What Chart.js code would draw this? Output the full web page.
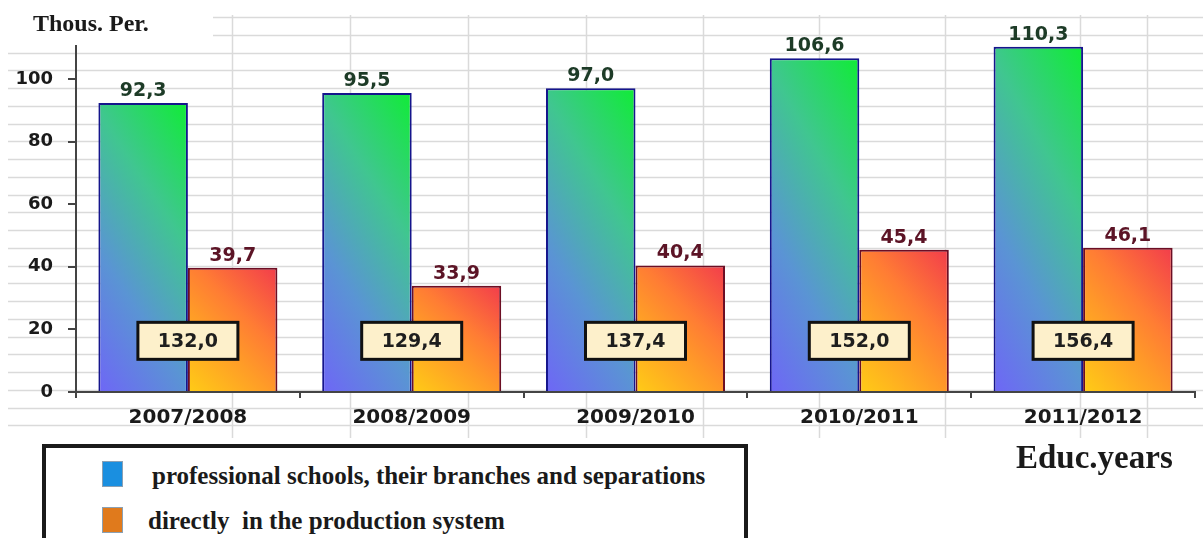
<!DOCTYPE html>
<html lang="en">
<head>
  <meta charset="UTF-8" />
  <title>Students by educational year</title>
  <script src="https://cdn.jsdelivr.net/npm/chart.js"></script>
  <style>
    body {
      margin: 0;
      background: #ffffff;
    }
    .wrap {
      position: relative;
      width: 1203px;
      height: 538px;
      overflow: hidden;
    }
    canvas {
      position: absolute;
      left: 0;
      top: 0;
    }
    .serif {
      position: absolute;
      font-family: 'Liberation Serif', serif;
      font-weight: bold;
      color: #1a1a1a;
      line-height: 1;
      white-space: pre;
    }
    .legend {
      position: absolute;
      left: 42px;
      top: 444px;
      width: 698px;
      height: 130px;
      border: 4px solid #1a1a1a;
      background: #fff;
    }
    .legend .swatch {
      position: absolute;
      width: 21px;
      height: 26px;
      border: 1px solid #8aa0b4;
      box-sizing: border-box;
    }
  </style>
</head>
<body>
<div class="wrap">
  <canvas id="chart" width="1203" height="538"></canvas>
  <div class="serif" style="left:33px; top:11px; font-size:24px;">Thous. Per.</div>
  <div class="serif" style="left:1016px; top:441px; font-size:33px;">Educ.years</div>
  <div class="legend" id="legend"></div>
</div>

<script>
// data
const years = ['2007/2008', '2008/2009', '2009/2010', '2010/2011', '2011/2012'];
const schoolValues = [92.3, 95.5, 97.0, 106.6, 110.3];
const productionValues = [39.7, 33.9, 40.4, 45.4, 46.1];
const seriesNames = ['professional schools, their branches and separations', 'directly  in the production system'];
const yTickValues = [0, 20, 40, 60, 80, 100];

const swatchColors = ['#1a8fe0', '#e07a1c'];
const labelColors = ['#1d3b27', '#5c1426'];
const TOTAL_LEVEL = 16.5; // where the total boxes sit on the value axis

function fmt(v) {
  return v.toFixed(1).replace('.', ',');
}

// gradient running from lower left to upper right of each bar
function barFill(context, dsIndex, stops, fx) {
  const chart = context.chart;
  const xs = chart.scales.x, ys = chart.scales.y;
  if (!chart.chartArea || !xs || !ys || context.type !== 'data') return stops[stops.length - 1][1];
  const cw = xs.getPixelForValue(1) - xs.getPixelForValue(0);
  const bw = cw * 0.8 / 2;
  const cx = xs.getPixelForValue(context.dataIndex);
  const left = dsIndex === 0 ? cx - bw : cx;
  const bottom = ys.getPixelForValue(0);
  const h = Math.max(1, bottom - ys.getPixelForValue(context.raw));
  const fy = 1 - fx;
  const L = 1 / (fx * fx / (bw * bw) + fy * fy / (h * h));
  const g = chart.ctx.createLinearGradient(left, bottom, left + fx * L / bw, bottom - fy * L / h);
  stops.forEach(s => g.addColorStop(s[0], s[1]));
  return g;
}

const blueStops = [[0, '#6e66f6'], [0.33, '#5a94d4'], [0.66, '#40c690'], [1, '#10ec36']];
const orangeStops = [[0, '#ffcc16'], [0.4, '#ff9a28'], [0.62, '#ff7c34'], [1, '#f23c4c']];

const sheetGrid = {
  id: 'sheetGrid',
  beforeDraw(chart) {
    const ctx = chart.ctx;
    ctx.save();
    ctx.fillStyle = '#ffffff';
    ctx.fillRect(0, 0, chart.width, chart.height);
    ctx.strokeStyle = '#dadada';
    ctx.lineWidth = 1.5;
    ctx.beginPath();
    for (let y = 17; y <= 433; y += 17.75) {
      const x0 = y < 45 ? 213 : 8;
      ctx.moveTo(x0, Math.round(y) + 0.5);
      ctx.lineTo(chart.width, Math.round(y) + 0.5);
    }
    [232, 350, 468, 586, 703, 819, 945, 1080, 1147].forEach(x => {
      ctx.moveTo(x + 0.5, 15);
      ctx.lineTo(x + 0.5, 438);
    });
    ctx.stroke();
    ctx.restore();
  }
};

const valueLabels = {
  id: 'valueLabels',
  afterDatasetsDraw(chart) {
    const ctx = chart.ctx;
    ctx.save();
    ctx.font = 'bold 19px "DejaVu Sans"';
    ctx.textAlign = 'center';
    ctx.textBaseline = 'alphabetic';
    chart.data.datasets.forEach((ds, di) => {
      chart.getDatasetMeta(di).data.forEach((bar, i) => {
        ctx.fillStyle = labelColors[di];
        ctx.fillText(fmt(ds.data[i]), bar.x, bar.y - 7);
      });
    });

    // boxed totals
    const xs = chart.scales.x, ys = chart.scales.y;
    const cy = ys.getPixelForValue(TOTAL_LEVEL);
    years.forEach((y, i) => {
      const cx = xs.getPixelForValue(i);
      const total = schoolValues[i] + productionValues[i];
      ctx.fillStyle = '#fdf0cb';
      ctx.fillRect(cx - 50, cy - 18, 100, 37);
      ctx.lineWidth = 3;
      ctx.strokeStyle = '#111111';
      ctx.strokeRect(cx - 50, cy - 18, 100, 37);
      ctx.fillStyle = '#1e1e1e';
      ctx.fillText(fmt(total), cx, cy + 7);
    });
    ctx.restore();
  }
};

const chart = new Chart(document.getElementById('chart'), {
  type: 'bar',
  data: {
    labels: years,
    datasets: [
      {
        label: seriesNames[0],
        data: schoolValues,
        backgroundColor: c => barFill(c, 0, blueStops, 0.32),
        borderColor: '#15158c',
        borderWidth: 2,
        categoryPercentage: 0.8,
        barPercentage: 1.0
      },
      {
        label: seriesNames[1],
        data: productionValues,
        backgroundColor: c => barFill(c, 1, orangeStops, 0.42),
        borderColor: '#6c0e24',
        borderWidth: 2,
        categoryPercentage: 0.8,
        barPercentage: 1.0
      }
    ]
  },
  options: {
    responsive: false,
    animation: false,
    layout: { padding: { left: 0, right: 8, top: 46, bottom: 106 } },
    plugins: {
      legend: { display: false },
      tooltip: { enabled: false }
    },
    scales: {
      x: {
        grid: { offset: true, drawOnChartArea: false, tickLength: 6, color: '#444', lineWidth: 2 },
        border: { color: '#444', width: 2 },
        ticks: {
          color: '#1a1a1a',
          padding: 8,
          font: { family: 'DejaVu Sans', size: 20, weight: 'bold' }
        },
        afterFit: s => { s.height = 40; }
      },
      y: {
        min: 0,
        max: 110.5,
        grid: { drawOnChartArea: false, tickLength: 8, color: '#444', lineWidth: 2 },
        border: { color: '#444', width: 2 },
        ticks: {
          color: '#1a1a1a',
          padding: 15,
          font: { family: 'DejaVu Sans', size: 18, weight: 'bold' }
        },
        afterBuildTicks: s => { s.ticks = yTickValues.map(v => ({ value: v })); },
        afterFit: s => { s.width = 76; }
      }
    }
  },
  plugins: [sheetGrid, valueLabels]
});

// legend in the box under the chart
const legend = document.getElementById('legend');
const rows = [{ top: 13, textTop: 15, left: 106 }, { top: 59, textTop: 60, left: 102 }];
seriesNames.forEach((name, i) => {
  const sw = document.createElement('div');
  sw.className = 'swatch';
  sw.style.left = '56px';
  sw.style.top = rows[i].top + 'px';
  sw.style.background = swatchColors[i];
  legend.appendChild(sw);
  const t = document.createElement('div');
  t.className = 'serif';
  t.style.left = rows[i].left + 'px';
  t.style.top = rows[i].textTop + 'px';
  t.style.fontSize = '25px';
  t.textContent = name;
  legend.appendChild(t);
});
</script>
</body>
</html>
